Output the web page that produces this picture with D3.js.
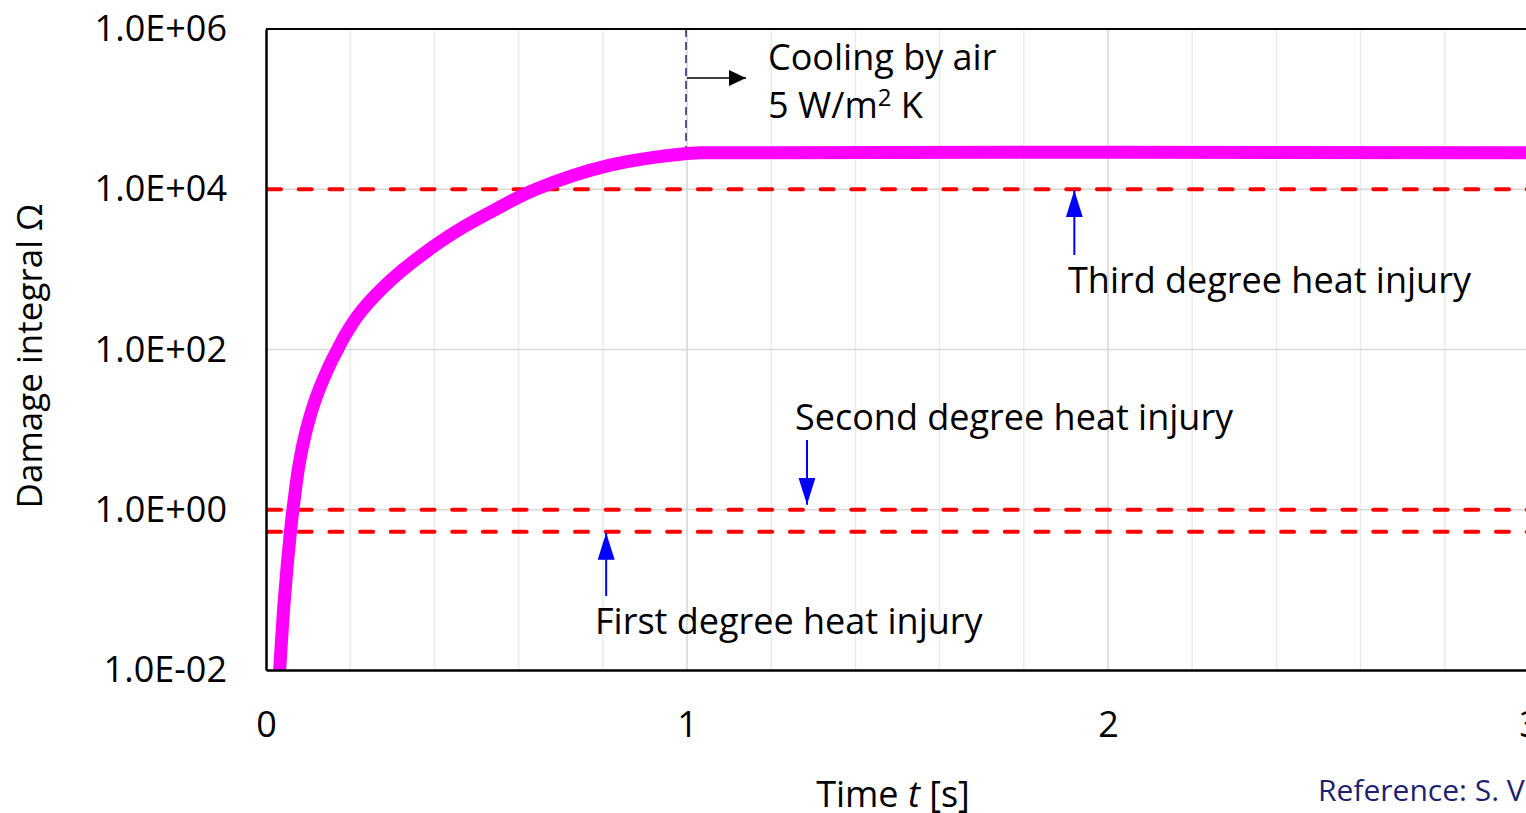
<!DOCTYPE html>
<html>
<head>
<meta charset="utf-8">
<script src="https://cdn.jsdelivr.net/npm/d3@7"></script>
<style>
    body { margin: 0; background: #fff; overflow: hidden; }
    text { font-family: "Open Sans", "Noto Sans", sans-serif; fill: #000; }
</style>
</head>
<body>
<div id="chart"></div>
<script>
    // damage integral curve
    var timeValues = [0.0325, 0.0435, 0.058, 0.064, 0.079, 0.096, 0.120, 0.154, 0.170, 0.187, 0.225, 0.30, 0.396, 0.47, 0.545, 0.641, 0.817, 1.0, 1.03, 3.0];
    var omegaValues = [0.01, 0.075, 0.53, 1, 3.8, 10, 26, 69, 100, 148, 295, 760, 1900, 3400, 5600, 10000, 20000, 28000, 28500, 28500];

    // injury thresholds
    var thresholdNames = ["Third degree heat injury", "Second degree heat injury", "First degree heat injury"];
    var thresholdValues = [1e4, 1, 0.53];

    var yTicks = [1e-2, 1e0, 1e2, 1e4, 1e6];
    var xTicks = [0, 1, 2, 3];
    var xMinorTicks = [0.2, 0.4, 0.6, 0.8, 1.2, 1.4, 1.6, 1.8, 2.2, 2.4, 2.6, 2.8];
    var coolingStart = 1.0;

    var width = 1526, height = 813;
    var pLeft = 266, pTop = 29, pBottom = 670, pRight = 1529;

    var svg = d3.select("#chart").append("svg")
        .attr("width", width)
        .attr("height", height);

    var x = d3.scaleLinear().domain([0, 3]).range([pLeft, pRight]);
    var y = d3.scaleLog().domain([1e-2, 1e6]).range([pBottom, pTop]);

    svg.append("defs").append("clipPath").attr("id", "plotClip")
        .append("rect")
        .attr("x", pLeft).attr("y", pTop)
        .attr("width", pRight - pLeft).attr("height", pBottom - pTop);

    // grid
    svg.selectAll(".vminor").data(xMinorTicks).enter().append("line")
        .attr("x1", function (d) { return x(d); })
        .attr("x2", function (d) { return x(d); })
        .attr("y1", pTop).attr("y2", pBottom)
        .style("stroke", "#ebebeb").style("stroke-width", 1.5);

    svg.selectAll(".vmajor").data(xTicks.slice(1)).enter().append("line")
        .attr("x1", function (d) { return x(d); })
        .attr("x2", function (d) { return x(d); })
        .attr("y1", pTop).attr("y2", pBottom)
        .style("stroke", "#d4d4d4").style("stroke-width", 1.5);

    svg.selectAll(".hmajor").data(yTicks.slice(1, 4)).enter().append("line")
        .attr("x1", pLeft).attr("x2", pRight)
        .attr("y1", function (d) { return y(d); })
        .attr("y2", function (d) { return y(d); })
        .style("stroke", "#d9d9d9").style("stroke-width", 1.5);

    // threshold lines
    svg.selectAll(".threshold").data(thresholdValues).enter().append("line")
        .attr("x1", pLeft + 2).attr("x2", pRight)
        .attr("y1", function (d) { return y(d); })
        .attr("y2", function (d) { return y(d); })
        .style("stroke", "#ff0000")
        .style("stroke-width", 4)
        .style("stroke-linecap", "round")
        .style("stroke-dasharray", "13 17.7");

    // cooling marker
    svg.append("line")
        .attr("x1", x(coolingStart) - 1).attr("x2", x(coolingStart) - 1)
        .attr("y1", pTop).attr("y2", y(28000) - 5)
        .style("stroke", "#262660")
        .style("stroke-width", 1.5)
        .style("stroke-dasharray", "8 5");

    // curve
    var line = d3.line()
        .x(function (d) { return x(d[0]); })
        .y(function (d) { return y(d[1]); })
        .curve(d3.curveCatmullRom.alpha(0.5));

    svg.append("path")
        .datum(d3.zip(timeValues, omegaValues))
        .attr("clip-path", "url(#plotClip)")
        .attr("d", line)
        .style("fill", "none")
        .style("stroke", "#ff00ff")
        .style("stroke-width", 13);

    // frame
    svg.append("line").attr("x1", pLeft).attr("x2", pRight).attr("y1", pTop).attr("y2", pTop)
        .style("stroke", "#000").style("stroke-width", 2);

    function fmtExp(v) {
        var e = Math.round(Math.log10(v));
        var s = Math.abs(e) < 10 ? "0" + Math.abs(e) : "" + Math.abs(e);
        return "1.0E" + (e < 0 ? "-" : "+") + s;
    }

    var yAxis = svg.append("g")
        .attr("transform", "translate(" + pLeft + ",0)")
        .call(d3.axisLeft(y).tickValues(yTicks).tickFormat(fmtExp).tickSize(0).tickPadding(39));
    yAxis.select(".domain").style("stroke", "#000").style("stroke-width", 2.5);

    var xAxis = svg.append("g")
        .attr("transform", "translate(0," + pBottom + ")")
        .call(d3.axisBottom(x).tickValues(xTicks).tickFormat(d3.format("d")).tickSize(0).tickPadding(41));
    xAxis.select(".domain").style("stroke", "#000").style("stroke-width", 2.5);

    svg.selectAll(".tick text")
        .style("font-family", "'Open Sans', sans-serif")
        .style("font-size", "36px")
        .style("fill", "#000");

    // axis titles
    svg.append("text")
        .attr("transform", "translate(42,356) rotate(-90)")
        .attr("text-anchor", "middle")
        .style("font-size", "35px")
        .text("Damage integral Ω");

    var xt = svg.append("text")
        .attr("x", 893).attr("y", 807)
        .attr("text-anchor", "middle")
        .style("font-size", "36px");
    xt.append("tspan").text("Time ");
    xt.append("tspan").style("font-style", "italic").text("t");
    xt.append("tspan").text(" [s]");

    svg.append("text")
        .attr("x", 1318).attr("y", 801)
        .style("font-size", "30px")
        .style("fill", "#1f1f70")
        .text("Reference: S. V");

    // annotations
    var defs = svg.append("defs");
    defs.append("marker")
        .attr("id", "headBlue")
        .attr("viewBox", "0 0 10 10")
        .attr("refX", 10).attr("refY", 5)
        .attr("markerUnits", "userSpaceOnUse")
        .attr("markerWidth", 27).attr("markerHeight", 17)
        .attr("preserveAspectRatio", "none")
        .attr("orient", "auto")
        .append("path")
        .attr("d", "M0,0L10,5L0,10Z")
        .style("fill", "#0000ff");
    defs.append("marker")
        .attr("id", "headBlack")
        .attr("viewBox", "0 0 10 10")
        .attr("refX", 10).attr("refY", 5)
        .attr("markerUnits", "userSpaceOnUse")
        .attr("markerWidth", 17).attr("markerHeight", 16)
        .attr("preserveAspectRatio", "none")
        .attr("orient", "auto")
        .append("path")
        .attr("d", "M0,0L10,5L0,10Z")
        .style("fill", "#000");

    var arrows = [
        { t: 1.92, from: 255, to: thresholdValues[0] },
        { t: 1.285, from: 440, to: thresholdValues[1] },
        { t: 0.808, from: 596, to: thresholdValues[2] }
    ];
    svg.selectAll(".arrow").data(arrows).enter().append("line")
        .attr("x1", function (d) { return x(d.t); })
        .attr("x2", function (d) { return x(d.t); })
        .attr("y1", function (d) { return d.from; })
        .attr("y2", function (d) { return y(d.to) + (d.from > y(d.to) ? 1 : -5); })
        .style("stroke", "#0000ff")
        .style("stroke-width", 2)
        .attr("marker-end", "url(#headBlue)");

    var labels = [
        { text: thresholdNames[0], x: 1068, y: 293 },
        { text: thresholdNames[1], x: 795, y: 430 },
        { text: thresholdNames[2], x: 595, y: 634 }
    ];
    svg.selectAll(".label").data(labels).enter().append("text")
        .attr("x", function (d) { return d.x; })
        .attr("y", function (d) { return d.y; })
        .style("font-size", "36px")
        .text(function (d) { return d.text; });

    svg.append("line")
        .attr("x1", x(coolingStart)).attr("x2", 746)
        .attr("y1", 78).attr("y2", 78)
        .style("stroke", "#000").style("stroke-width", 1.5)
        .attr("marker-end", "url(#headBlack)");

    svg.append("text").attr("x", 768).attr("y", 70)
        .style("font-size", "36px").text("Cooling by air");
    var unit = svg.append("text").attr("x", 768).attr("y", 118)
        .style("font-size", "36px");
    unit.append("tspan").text("5 W/m");
    unit.append("tspan").attr("dy", -12).style("font-size", "24px").text("2");
    unit.append("tspan").attr("dy", 12).text(" K");
</script>
</body>
</html>
